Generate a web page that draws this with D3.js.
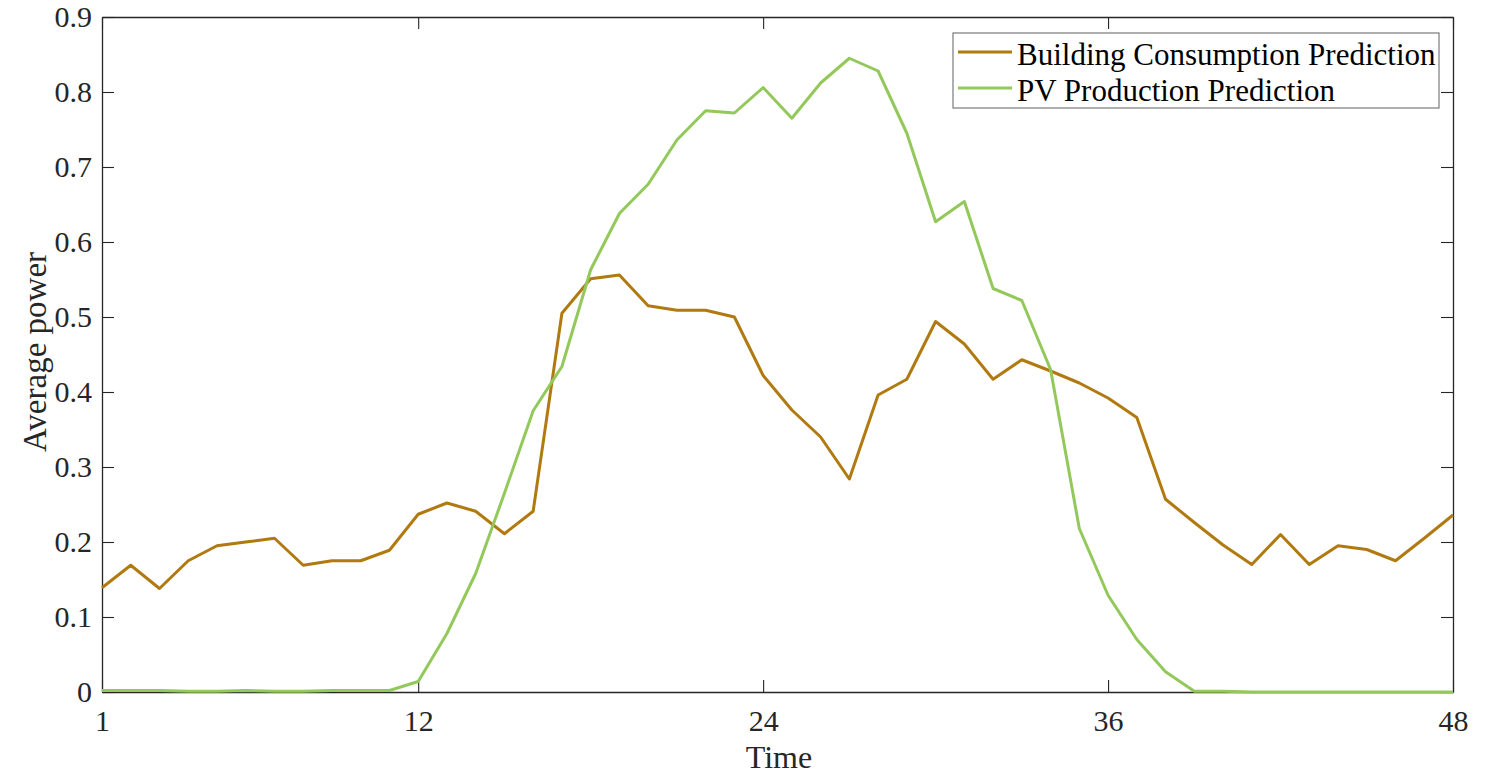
<!DOCTYPE html>
<html>
<head>
<meta charset="utf-8">
<script src="https://cdn.jsdelivr.net/npm/d3@7"></script>
<style>
  body { margin: 0; background: #fff; }
  svg, svg text { font-family: 'Liberation Serif', 'Times New Roman', serif; }
</style>
</head>
<body>
<div id="chart"></div>
<script>
// values, one per half hour (1..48)
const timeSlots = d3.range(1, 49);
const consumption = [
    0.139, 0.169, 0.138, 0.175, 0.195, 0.200, 0.205, 0.169, 0.175, 0.175,
    0.189, 0.237, 0.252, 0.241, 0.211, 0.241, 0.505, 0.551, 0.556, 0.515,
    0.509, 0.509, 0.500, 0.422, 0.376, 0.340, 0.284, 0.396, 0.417, 0.494,
    0.464, 0.417, 0.443, 0.428, 0.412, 0.392, 0.366, 0.257, 0.226, 0.196,
    0.170, 0.210, 0.170, 0.195, 0.190, 0.175, 0.205, 0.236
];
const production = [
    0.002, 0.002, 0.002, 0.001, 0.001, 0.002, 0.001, 0.001, 0.002, 0.002,
    0.002, 0.014, 0.078, 0.158, 0.265, 0.375, 0.434, 0.563, 0.638, 0.677,
    0.736, 0.775, 0.772, 0.806, 0.765, 0.812, 0.845, 0.828, 0.745, 0.627,
    0.654, 0.538, 0.522, 0.430, 0.218, 0.129, 0.070, 0.027, 0.001, 0.001,
    0.000, 0.000, 0.000, 0.000, 0.000, 0.000, 0.000, 0.000
];
const seriesNames = ['Building Consumption Prediction', 'PV Production Prediction'];
const seriesColors = ['#b07a10', '#93c85b'];
const xTicks = [1, 12, 24, 36, 48];
const yTicks = d3.range(0, 0.91, 0.1);

const width = 1499;
const height = 778;
let margin = { top: 17, right: 46, bottom: 86, left: 102 };

let x = d3.scaleLinear()
    .domain([1, 48])
    .range([margin.left, width - margin.right]);

let y = d3.scaleLinear()
    .domain([0, 0.9])
    .range([height - margin.bottom, margin.top]);

const svg = d3.select('#chart')
    .append('svg')
    .attr('width', width)
    .attr('height', height);

const axisColor = '#262626';
const tickLen = 12;

// MATLAB style: ticks point inward on all four sides
let xAxis = (g) => g
    .attr('transform', `translate(0,${height - margin.bottom})`)
    .call(d3.axisBottom(x).tickValues(xTicks).tickSizeInner(-tickLen).tickSizeOuter(0).tickPadding(18));

let xAxisTop = (g) => g
    .attr('transform', `translate(0,${margin.top})`)
    .call(d3.axisTop(x).tickValues(xTicks).tickSizeInner(-tickLen).tickSizeOuter(0).tickFormat(''));

let yAxis = (g) => g
    .attr('transform', `translate(${margin.left},0)`)
    .call(d3.axisLeft(y).tickValues(yTicks).tickSizeInner(-tickLen).tickSizeOuter(0).tickPadding(10)
        .tickFormat(d => d === 0 ? '0' : d3.format('.1f')(d)));

let yAxisRight = (g) => g
    .attr('transform', `translate(${width - margin.right},0)`)
    .call(d3.axisRight(y).tickValues(yTicks).tickSizeInner(-tickLen).tickSizeOuter(0).tickFormat(''));

[xAxis, xAxisTop, yAxis, yAxisRight].forEach(a => {
    const g = svg.append('g').call(a);
    g.attr('font-family', null);
    g.select('.domain').attr('stroke', axisColor).attr('stroke-width', 1.3);
    g.selectAll('.tick line').attr('stroke', axisColor).attr('stroke-width', 1.1);
    g.selectAll('.tick text')
        .attr('fill', axisColor)
        .style('font-size', '30px')
        .style('font-family', "'Liberation Serif', serif");
});

// lines
const series = [consumption, production];
const line = d3.line()
    .x((d, i) => x(timeSlots[i]))
    .y(d => y(d));

series.forEach((vals, k) => {
    svg.append('path')
        .datum(vals)
        .attr('fill', 'none')
        .attr('stroke', seriesColors[k])
        .attr('stroke-width', 3)
        .attr('stroke-linejoin', 'round')
        .attr('d', line);
});

// axis labels
svg.append('text')
    .attr('x', 779)
    .attr('y', 768)
    .attr('text-anchor', 'middle')
    .style('font-size', '32px')
    .attr('fill', axisColor)
    .text('Time');

svg.append('text')
    .attr('transform', 'translate(46, 352) rotate(-90)')
    .attr('text-anchor', 'middle')
    .style('font-size', '33px')
    .attr('fill', axisColor)
    .text('Average power');

// legend
const legend = svg.append('g').attr('transform', 'translate(953,33)');
legend.append('rect')
    .attr('width', 486)
    .attr('height', 75)
    .attr('fill', '#fff')
    .attr('stroke', '#7a7a7a')
    .attr('stroke-width', 1.2);

seriesNames.forEach((name, k) => {
    const yy = 19 + k * 36;
    legend.append('line')
        .attr('x1', 5).attr('x2', 59)
        .attr('y1', yy).attr('y2', yy)
        .attr('stroke', seriesColors[k])
        .attr('stroke-width', 3);
    legend.append('text')
        .attr('x', 64)
        .attr('y', yy + 13)
        .style('font-size', '31px')
        .attr('fill', '#000')
        .text(name);
});
</script>
</body>
</html>
